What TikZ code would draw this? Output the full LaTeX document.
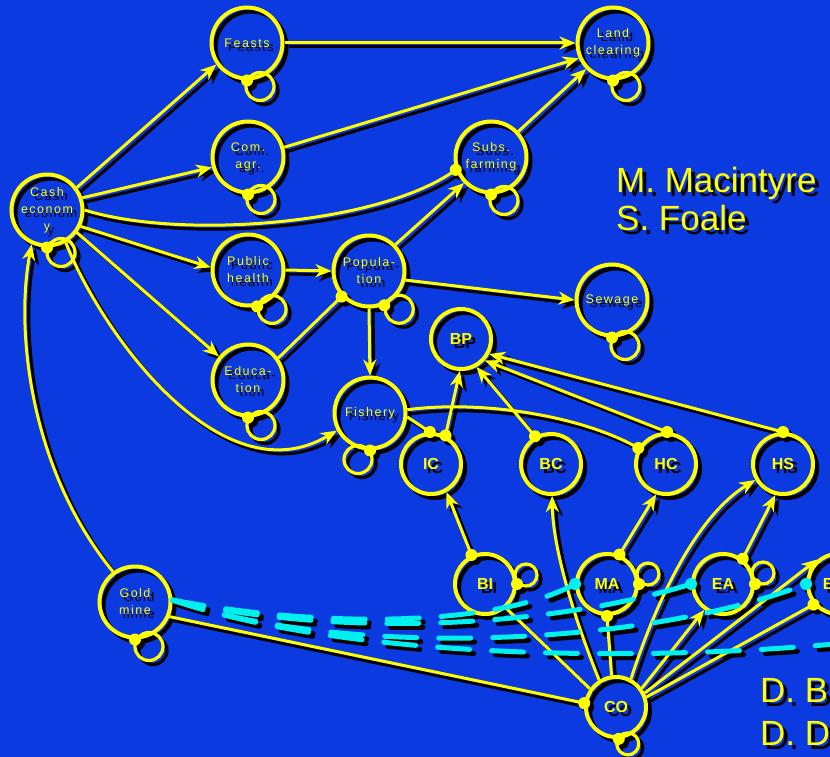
\documentclass[tikz,border=0pt]{standalone}
\usepackage{fontspec}
\setmainfont{Liberation Sans}
\newfontfamily\labfont[LetterSpace=12]{Liberation Sans}
\usetikzlibrary{arrows.meta,calc}
\definecolor{bgblue}{RGB}{10,58,224}
\definecolor{fgY}{RGB}{255,255,0}
\definecolor{fgC}{RGB}{0,240,240}

\tikzset{
  big/.style={circle, draw=fgY, line width=4pt, minimum size=71pt, inner sep=0pt, text=fgY, align=center, font=\labfont\fontsize{12.5}{17}\selectfont},
  small/.style={circle, draw=fgY, line width=4pt, minimum size=60pt, inner sep=0pt, text=fgY, font=\bfseries\fontsize{16}{18}\selectfont},
  ln/.style={draw=fgY, line width=3pt},
  arr/.style={ln, -{Stealth[length=16pt,width=13pt,inset=5pt]}},
  lp/.style={draw=fgY, line width=3.2pt},
  cy/.style={draw=fgC, line width=5pt, dash pattern=on 32pt off 22pt, line cap=round},
  title/.style={text=fgY, anchor=base west, inner sep=0pt, font=\fontsize{35}{38}\selectfont},
}

\newcommand\mylp[5]{\draw[lp] ($(#1.#2)+(#3,#4)$) circle[radius=#5]; \fill[fgY] (#1.#2) circle[radius=6];}
\newcommand\mydot[1]{\fill[fgY] (#1) circle[radius=6];}
\newcommand\mycdot[1]{\fill[fgC] (#1) circle[radius=6];}

\newcommand\mydrawscene{%
\node[big] (cash) at (47,210) {Cash\\econom\\y};
\node[big] (feasts) at (247,43) {Feasts};
\node[big] (comagr) at (248,157) {Com.\\agr.};
\node[big] (pubh) at (248,270) {Public\\health};
\node[big] (educ) at (248,380) {Educa-\\tion};
\node[big] (pop) at (369,271) {Popula-\\tion};
\node[big] (fish) at (370,413) {Fishery};
\node[big] (subs) at (491,157) {Subs.\\farming};
\node[big] (land) at (613,43) {Land\\clearing};
\node[big] (sewage) at (612,300) {Sewage};
\node[big] (gold) at (135,602) {Gold\\mine};
\node[small] (bp) at (461,339) {BP};
\node[small] (ic) at (431,464) {IC};
\node[small] (bc) at (551,464) {BC};
\node[small] (hc) at (666,464) {HC};
\node[small] (hs) at (783,464) {HS};
\node[small] (bi) at (485,584) {BI};
\node[small] (ma) at (607,584) {MA};
\node[small] (ea) at (723,584) {EA};
\node[small] (en) at (838,584) {E\phantom{A}\hspace*{8pt}};
\node[small] (co) at (616,707) {CO};
% edges
\draw[arr] (cash.37) -- (feasts.215);
\draw[arr] (cash.19) -- (comagr.196);
\draw[ln] (cash.0) .. controls (180,240) and (380,225) .. (subs.200);
\mydot{subs.200}
\draw[arr] (cash.334) -- (pubh.176);
\draw[arr] (cash.323) -- (educ.141);
\draw[arr] (cash.300) .. controls (100,330) and (220,500) .. (fish.208);
\draw[arr] (gold.126) .. controls (30,470) and (15,330) .. (cash.246);
\draw[arr] (feasts.0) -- (land.180);
\draw[arr] (comagr.15) -- (land.204);
\draw[arr] (subs.43) -- (land.224);
\draw[arr] (pubh.0) -- (pop.180);
\draw[arr] (pop.45) -- (subs.224);
\draw[arr] (pop.346) -- (sewage.180);
\draw[arr] (pop.270) -- (fish.90);
\draw[ln] (educ.36) -- (pop.223);
\mydot{pop.223}
\draw[ln] (fish.354) -- (ic.92);
\mydot{ic.92}
\draw[ln] (fish.5) .. controls (480,400) and (580,415) .. (hc.150);
\mydot{hc.150}
\draw[arr] (ic.63) -- (bp.268);
\mydot{ic.63}
\draw[arr] (bc.120) -- (bp.299);
\mydot{bc.120}
\draw[arr] (hc.88) -- (bp.318);
\mydot{hc.88}
\draw[arr] (hs.90) -- (bp.332);
\mydot{hs.90}
\draw[arr] (bi.115) -- (ic.299);
\mydot{bi.115}
\draw[arr] (co.122) .. controls (575,620) and (553,550) .. (bc.272);
\draw[arr] (ma.67) -- (hc.252);
\mydot{ma.67}
\draw[arr] (ea.52) -- (hs.256);
\mydot{ea.52}
\draw[arr] (co.62) .. controls (650,620) and (690,520) .. (hs.210);
\draw[arr] (co.36) -- (ea.234);
\draw[arr] (co.26) -- (en.130);
\draw[ln] (co.18) -- (en.220);
\mydot{en.220}
\draw[ln] (gold.337) -- (co.173);
\mydot{co.173}
\draw[ln] (bi.311) -- (co.145);
\draw[ln] (ma.270) -- (co.98);
\mydot{ma.270}
% loops
\mylp{cash}{270}{14}{5}{14}
\mylp{feasts}{270}{13}{6}{14}
\mylp{comagr}{270}{13}{5}{14}
\mylp{pubh}{284}{15}{3}{14}
\mylp{pop}{294}{15}{4}{14}
\mylp{educ}{270}{13}{8}{14}
\mylp{fish}{270}{-12}{9}{14}
\mylp{subs}{270}{13}{6}{14}
\mylp{land}{270}{13}{6}{14}
\mylp{sewage}{270}{13}{8}{14}
\mylp{gold}{270}{14}{7}{14}
\mylp{bi}{0}{9}{-9}{11}
\mylp{ma}{0}{9}{-10}{11}
\mylp{ea}{0}{8}{-11}{11}
\mylp{co}{275}{9}{5}{11}
% cyan dashed links
\coordinate (cyend) at (845,643);
\draw[cy] (gold.3) .. controls (330,630) and (500,625) .. (ma.180);
\draw[cy] (gold.3) .. controls (350,640) and (560,625) .. (ea.180);
\draw[cy] (gold.3) .. controls (350,660) and (650,645) .. (en.180);
\draw[cy] (gold.3) .. controls (350,660) and (650,662) .. (cyend);
\mycdot{ma.180}
\mycdot{ea.180}
\mycdot{en.180}
% titles
\node[title] (t1) at (616,192) {M. Macintyre};
\node[title] (t2) at (616,230) {S. Foale};
\node[title] (t3) at (760,702) {D. B};
\node[title] (t4) at (760,745) {D. D};
}

\begin{document}
\begin{tikzpicture}[x=1pt,y=-1pt]
\useasboundingbox (0,0) rectangle (830,757);
\fill[bgblue] (0,0) rectangle (830,757);
\begin{scope}
\clip (0,0) rectangle (830,757);
\begin{scope}[shift={(4,4)}, name prefix=s-]
\colorlet{fgY}{black}\colorlet{fgC}{black}
\mydrawscene
\end{scope}
\mydrawscene
\end{scope}
\end{tikzpicture}
\end{document}
